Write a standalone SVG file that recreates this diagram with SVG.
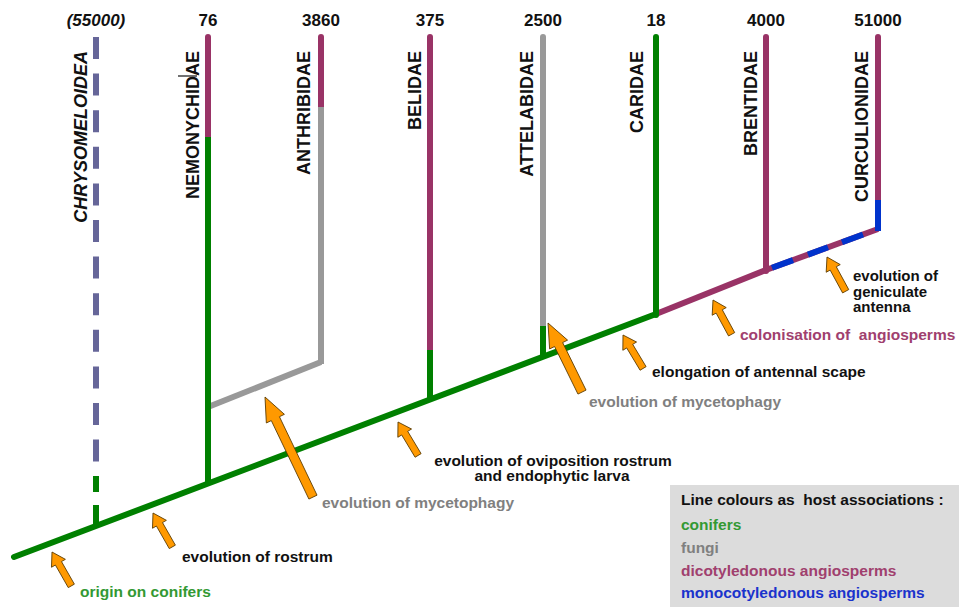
<svg xmlns="http://www.w3.org/2000/svg" width="959" height="607" viewBox="0 0 959 607">
<style>
.t{font-family:"Liberation Sans",Arial,sans-serif;font-weight:bold}
.num{font-size:17px;fill:#111;text-anchor:middle}
.lab{font-size:18px;fill:#111;text-anchor:end}
.ann{font-size:15.5px}
.ml{font-size:15px}
.k{fill:#111}
.g{fill:#339933}
.f{fill:#808080}
.p{fill:#a0406e}
.b{fill:#1a33cc}
.ln{fill:none;stroke-width:6}
.cg{stroke:#008000}
.cp{stroke:#993366}
.cf{stroke:#999999}
.cb{stroke:#0033cc}
.cd{stroke:#666699}
.arr{fill:#ff9900;stroke:#5a3a00;stroke-width:0.8;stroke-linejoin:miter}
</style>
<defs>
<polygon id="sa" class="arr" points="0,0 -13,-8 -13,-3.5 -39,-3.5 -39,3.5 -13,3.5 -13,8"/>
<polygon id="ba" class="arr" points="0,0 -24,-10 -24,-4.5 -111,-4.5 -111,4.5 -24,4.5 -24,10"/>
<polygon id="ba2" class="arr" points="0,0 -24,-10 -24,-4.5 -77,-4.5 -77,4.5 -24,4.5 -24,10"/>
</defs>
<rect width="959" height="607" fill="#ffffff"/>

<g id="connectors">
  <line class="ln cg" x1="14" y1="557" x2="656" y2="314" stroke-linecap="round"/>
  <line class="ln cp" x1="656" y1="314" x2="766" y2="270"/>
  <line class="ln cp" x1="766" y1="270" x2="878" y2="229"/>
  <line class="ln cb" x1="772" y1="267.8" x2="793" y2="260.1"/>
  <line class="ln cb" x1="808" y1="254.6" x2="828" y2="247.3"/>
  <line class="ln cb" x1="842" y1="242.2" x2="863" y2="234.5"/>
  <line class="ln cf" x1="208" y1="407" x2="321" y2="362" stroke-width="5"/>
</g>

<g id="chrysomeloidea">
  <line class="ln cd" x1="96" y1="37" x2="96" y2="462" stroke-dasharray="22 14.6"/>
  <line class="ln cg" x1="96" y1="476" x2="96" y2="492"/>
  <line class="ln cg" x1="96" y1="505" x2="96" y2="527"/>
  <text class="t num" x="96" y="26" font-style="italic">(55000)</text>
  <text class="t lab" transform="translate(87,51) rotate(-90)" font-style="italic">CHRYSOMELOIDEA</text>
</g>

<g id="nemonychidae">
  <line class="ln cp" x1="208" y1="37" x2="208" y2="137" stroke-linecap="round"/>
  <line class="ln cg" x1="208" y1="137" x2="208" y2="485"/>
  <text class="t num" x="208" y="26">76</text>
  <text class="t lab" transform="translate(199,51) rotate(-90)">NEMONYCHIDAE</text>
  <line x1="178" y1="76" x2="197" y2="76" stroke="#111" stroke-width="1.2"/>
</g>

<g id="anthribidae">
  <line class="ln cp" x1="321" y1="37" x2="321" y2="107" stroke-linecap="round"/>
  <line class="ln cf" x1="321" y1="107" x2="321" y2="364"/>
  <text class="t num" x="321" y="26">3860</text>
  <text class="t lab" transform="translate(310,51) rotate(-90)">ANTHRIBIDAE</text>
</g>

<g id="belidae">
  <line class="ln cp" x1="430" y1="37" x2="430" y2="350" stroke-linecap="round"/>
  <line class="ln cg" x1="430" y1="350" x2="430" y2="401"/>
  <text class="t num" x="430" y="26">375</text>
  <text class="t lab" transform="translate(421,51) rotate(-90)">BELIDAE</text>
</g>

<g id="attelabidae">
  <line class="ln cf" x1="543" y1="37" x2="543" y2="326" stroke-linecap="round"/>
  <line class="ln cg" x1="543" y1="326" x2="543" y2="358"/>
  <text class="t num" x="543" y="26">2500</text>
  <text class="t lab" transform="translate(533,51) rotate(-90)">ATTELABIDAE</text>
</g>

<g id="caridae">
  <line class="ln cg" x1="656" y1="37" x2="656" y2="315" stroke-width="7" stroke-linecap="round"/>
  <text class="t num" x="656" y="26">18</text>
  <text class="t lab" transform="translate(643,51) rotate(-90)">CARIDAE</text>
</g>

<g id="brentidae">
  <line class="ln cp" x1="766" y1="37" x2="766" y2="271" stroke-linecap="round"/>
  <text class="t num" x="766" y="26">4000</text>
  <text class="t lab" transform="translate(757,51) rotate(-90)">BRENTIDAE</text>
</g>

<g id="curculionidae">
  <line class="ln cp" x1="878" y1="37" x2="878" y2="200" stroke-linecap="round"/>
  <line class="ln cb" x1="878" y1="200" x2="878" y2="231"/>
  <text class="t num" x="878" y="26">51000</text>
  <text class="t lab" transform="translate(868,51) rotate(-90)">CURCULIONIDAE</text>
</g>

<g id="annotations">
  <use href="#sa" transform="translate(52,552) rotate(-119.7)"/>
  <text class="t ann g" x="80" y="597">origin on conifers</text>
  <use href="#sa" transform="translate(153,513) rotate(-119.7)"/>
  <text class="t ann k" x="182" y="562">evolution of rostrum</text>
  <use href="#ba" transform="translate(265,397) rotate(-115.6)"/>
  <text class="t ann f" x="322" y="508">evolution of mycetophagy</text>
  <use href="#sa" transform="translate(398,422) rotate(-121)"/>
  <text class="t ann k" x="553" y="465.5" text-anchor="middle">evolution of oviposition rostrum</text>
  <text class="t ann k" x="552" y="481" text-anchor="middle">and endophytic larva</text>
  <use href="#ba2" transform="translate(548,323) rotate(-116.2)"/>
  <text class="t ann f" x="589" y="407">evolution of mycetophagy</text>
  <use href="#sa" transform="translate(623,335) rotate(-121)"/>
  <text class="t ann k" x="652" y="377">elongation of antennal scape</text>
  <use href="#sa" transform="translate(713,300) rotate(-118.5)"/>
  <text class="t ann p" x="740" y="340" xml:space="preserve">colonisation of  angiosperms</text>
  <use href="#sa" transform="translate(827,257) rotate(-118.6)"/>
  <text class="t ml k" x="853" y="281">evolution of</text>
  <text class="t ml k" x="853" y="296.5">geniculate</text>
  <text class="t ml k" x="853" y="312">antenna</text>
</g>

<g id="legend">
  <rect x="670" y="485" width="289" height="122" fill="#dcdcdc"/>
  <text class="t ann k" x="681" y="505" xml:space="preserve">Line colours as  host associations :</text>
  <text class="t ann g" x="681" y="530">conifers</text>
  <text class="t ann f" x="681" y="553">fungi</text>
  <text class="t ann p" x="681" y="576">dicotyledonous angiosperms</text>
  <text class="t ann b" x="681" y="598">monocotyledonous angiosperms</text>
</g>
</svg>
